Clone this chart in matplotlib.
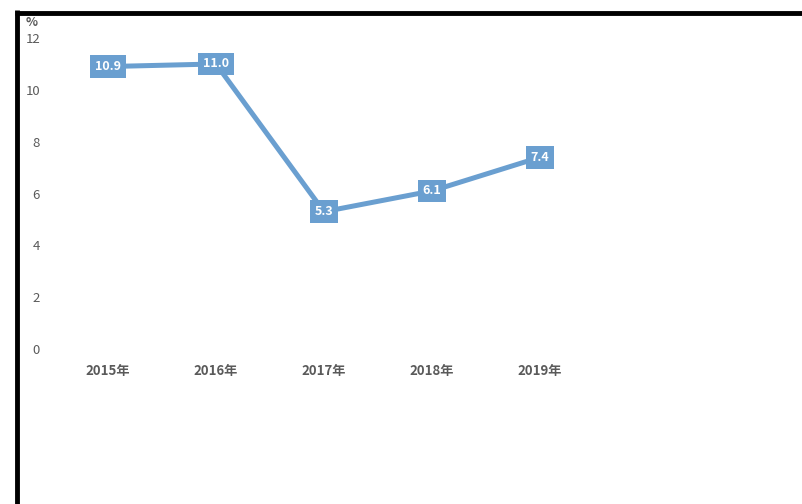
import matplotlib.pyplot as plt
from matplotlib.lines import Line2D

plt.rcParams['font.family'] = ['Noto Sans CJK SC', 'DejaVu Sans']

# Growth rate by year (%)
years = ['2015年', '2016年', '2017年', '2018年', '2019年']
rates = [10.9, 11.0, 5.3, 6.1, 7.4]
y_ticks = [0, 2, 4, 6, 8, 10, 12]

blue = '#6a9fd0'
grey = '#5a5a5a'

fig = plt.figure(figsize=(8.02, 5.04), dpi=100)
ax = fig.add_axes([0.0673, 0.3075, 0.6733, 0.617])

x = list(range(len(years)))
ax.plot(x, rates, color=blue, linewidth=3.6, solid_capstyle='butt', zorder=2)

# value boxes on each point
for xi, v in zip(x, rates):
    ax.text(xi, v, f'{v:.1f}', ha='center', va='center', color='white',
            fontsize=9, fontweight='bold', zorder=3,
            bbox=dict(boxstyle='square,pad=0.38', facecolor=blue,
                      edgecolor='none'))

ax.set_xlim(-0.5, len(years) - 0.5)
ax.set_ylim(0, 12)
ax.set_xticks(x)
ax.set_xticklabels(years, color=grey, fontsize=9.5, fontweight='bold')
ax.set_yticks(y_ticks)
ax.set_yticklabels([str(t) for t in y_ticks], color=grey, fontsize=9.5)
ax.tick_params(axis='x', length=0, pad=11)
ax.tick_params(axis='y', length=0, pad=10)
for s in ax.spines.values():
    s.set_visible(False)

# unit above the y axis
fig.text(32 / 802, 1 - 22 / 504, '%', color=grey, fontsize=9,
         fontweight='bold', ha='center', va='center')

# black frame on the left and top edges
fig.add_artist(Line2D([17 / 802, 17 / 802], [0, 1 - 10 / 504],
                      transform=fig.transFigure, color='black',
                      linewidth=3.5, solid_capstyle='butt'))
fig.add_artist(Line2D([15 / 802, 1], [1 - 12.5 / 504, 1 - 12.5 / 504],
                      transform=fig.transFigure, color='black',
                      linewidth=3.5, solid_capstyle='butt'))

fig.savefig('out.png', dpi=100)
